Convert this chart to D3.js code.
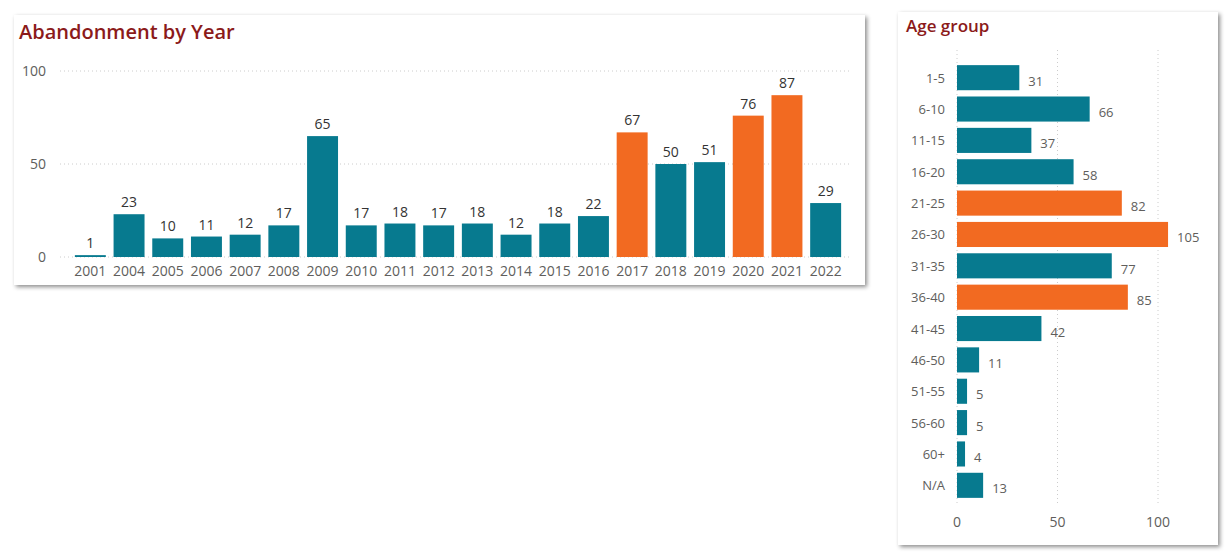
<!DOCTYPE html>
<html><head><meta charset="utf-8">
<script src="https://cdn.jsdelivr.net/npm/d3@7"></script>
<style>body{margin:0;background:#fff;font-family:"Segoe UI","Open Sans",sans-serif}</style>
</head><body>
<svg id="c" width="1232" height="560"></svg>
<script>
const years = ["2001","2004","2005","2006","2007","2008","2009","2010","2011","2012","2013","2014","2015","2016","2017","2018","2019","2020","2021","2022"];
const yearValues = [1,23,10,11,12,17,65,17,18,17,18,12,18,22,67,50,51,76,87,29];
const yearHighlight = ["2017","2020","2021"];
const ages = ["1-5","6-10","11-15","16-20","21-25","26-30","31-35","36-40","41-45","46-50","51-55","56-60","60+","N/A"];
const ageValues = [31,66,37,58,82,105,77,85,42,11,5,5,4,13];
const ageHighlight = ["21-25","26-30","36-40"];

const teal = "#077a8f", orange = "#f26a21", grey = "#605e5c";
const svg = d3.select("#c");
const defs = svg.append("defs");
const f = defs.append("filter").attr("id","sh").attr("x","-5%").attr("y","-5%").attr("width","110%").attr("height","110%");
f.append("feDropShadow").attr("dx",2).attr("dy",2).attr("stdDeviation",2).attr("flood-color","#000").attr("flood-opacity",0.45);

// left card
svg.append("rect").attr("x",14).attr("y",15).attr("width",851).attr("height",270).attr("fill","#fff").attr("filter","url(#sh)");
svg.append("text").attr("x",19).attr("y",39).attr("fill","#8b1a1a").attr("font-size",20).attr("font-weight",600).text("Abandonment by Year");

const x = d3.scaleBand().domain(years).range([71,845]).paddingInner(0.2).paddingOuter(0.1);
const y = d3.scaleLinear().domain([0,100]).range([257,71]);
const gl = svg.append("g");
gl.selectAll("line.g").data([0,50,100]).join("line")
  .attr("x1",60).attr("x2",850).attr("y1",d=>y(d)).attr("y2",d=>y(d))
  .attr("stroke","#ccc").attr("stroke-dasharray","1,3");
gl.selectAll("text.yt").data([0,50,100]).join("text")
  .attr("x",46).attr("y",d=>y(d)+5).attr("text-anchor","end").attr("fill",grey).attr("font-size",14).text(d=>d);
gl.selectAll("rect").data(years).join("rect")
  .attr("x",d=>x(d)).attr("width",x.bandwidth())
  .attr("y",(d,i)=>y(yearValues[i])).attr("height",(d,i)=>y(0)-y(yearValues[i]))
  .attr("fill",d=>yearHighlight.includes(d)?orange:teal);
gl.selectAll("text.v").data(years).join("text")
  .attr("x",d=>x(d)+x.bandwidth()/2).attr("y",(d,i)=>y(yearValues[i])-7)
  .attr("text-anchor","middle").attr("fill","#333").attr("font-size",14).text((d,i)=>yearValues[i]);
gl.selectAll("text.xl").data(years).join("text")
  .attr("x",d=>x(d)+x.bandwidth()/2).attr("y",276)
  .attr("text-anchor","middle").attr("fill",grey).attr("font-size",14).text(d=>d);

// right card
svg.append("rect").attr("x",898).attr("y",12).attr("width",320).attr("height",533).attr("fill","#fff").attr("filter","url(#sh)");
svg.append("text").attr("x",906).attr("y",32).attr("fill","#8b1a1a").attr("font-size",17).attr("font-weight",600).text("Age group");

const ax = d3.scaleLinear().domain([0,100]).range([957,1158]);
const ay = d3.scaleBand().domain(ages).range([62,501]).paddingInner(0.2).paddingOuter(0.1);
const gr = svg.append("g");
gr.selectAll("line").data([0,50,100]).join("line")
  .attr("x1",d=>ax(d)).attr("x2",d=>ax(d)).attr("y1",50).attr("y2",505)
  .attr("stroke","#ccc").attr("stroke-dasharray","1,3");
gr.selectAll("text.xt").data([0,50,100]).join("text")
  .attr("x",d=>ax(d)).attr("y",527).attr("text-anchor","middle").attr("fill",grey).attr("font-size",14).text(d=>d);
gr.selectAll("rect").data(ages).join("rect")
  .attr("x",ax(0)).attr("y",d=>ay(d)).attr("height",ay.bandwidth())
  .attr("width",(d,i)=>ax(ageValues[i])-ax(0))
  .attr("fill",d=>ageHighlight.includes(d)?orange:teal);
gr.selectAll("text.yl").data(ages).join("text")
  .attr("x",945).attr("y",d=>ay(d)+ay.bandwidth()/2+5).attr("text-anchor","end")
  .attr("fill",grey).attr("font-size",13).text(d=>d);
gr.selectAll("text.v").data(ages).join("text")
  .attr("x",(d,i)=>ax(ageValues[i])+9).attr("y",d=>ay(d)+ay.bandwidth()/2+8)
  .attr("fill",grey).attr("font-size",13).text((d,i)=>ageValues[i]);
</script>
</body></html>
